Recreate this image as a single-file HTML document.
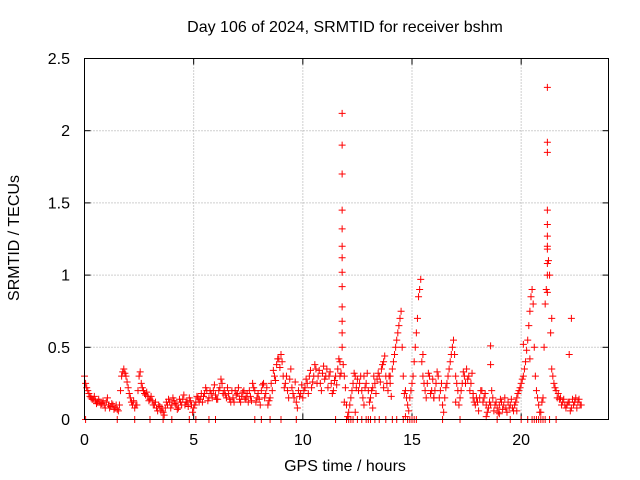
<!DOCTYPE html>
<html><head><meta charset="utf-8"><style>
html,body{margin:0;padding:0;background:#fff;}
svg{display:block;font-family:"Liberation Sans",sans-serif;}
</style></head><body>
<svg id="chart" width="640" height="480" viewBox="0 0 640 480">
<rect x="0" y="0" width="640" height="480" fill="#fff"/>
<text x="345" y="32" font-size="16" text-anchor="middle">Day 106 of 2024, SRMTID for receiver bshm</text>
<text x="345" y="471" font-size="16" text-anchor="middle">GPS time / hours</text>
<text x="19" y="238" font-size="16" text-anchor="middle" transform="rotate(-90 19 238)">SRMTID / TECUs</text>
<g id="grid"></g>
<g id="ticks"></g>
<g id="marks"></g>
<rect x="84.5" y="58.5" width="524" height="361" fill="none" stroke="#000"/>
</svg>
<script>
const xTicks=[0,5,10,15,20];
const yTicks=[0,0.5,1,1.5,2,2.5];
const yTickLabels=["0","0.5","1","1.5","2","2.5"];
const traceHours=[0.0,0.1,0.2,0.3,0.4,0.5,0.6,0.7,0.8,0.9,1.0,1.1,1.2,1.3,1.4,1.5,1.6,1.7,1.8,1.9,2.0,2.1,2.2,2.3,2.4,2.5,2.6,2.7,2.8,2.9,3.0,3.1,3.2,3.3,3.4,3.5,3.6,3.7,3.8,3.9,4.0,4.1,4.2,4.3,4.4,4.5,4.6,4.7,4.8,4.9,5.0,5.1,5.2,5.3,5.4,5.5,5.6,5.7,5.8,5.9,6.0,6.1,6.2,6.3,6.4,6.5,6.6,6.7,6.8,6.9,7.0,7.1,7.2,7.3,7.4,7.5,7.6,7.7,7.8,7.9,8.0,8.1,8.2,8.3,8.4,8.5,8.6,8.7,8.8,8.9,9.0,9.1,9.2,9.3,9.4,9.5,9.6,9.7,9.8,9.9,10.0,10.1,10.2,10.3,10.4,10.5,10.6,10.7,10.8,10.9,11.0,11.1,11.2,11.3,11.4,11.5,11.6,11.7,11.8,11.9,12.0,12.1,12.2,12.3,12.4,12.5,12.6,12.7,12.8,12.9,13.0,13.1,13.2,13.3,13.4,13.5,13.6,13.7,13.8,13.9,14.0,14.1,14.2,14.3,14.4,14.5,14.6,14.7,14.8,14.9,15.0,15.1,15.2,15.3,15.4,15.5,15.6,15.7,15.8,15.9,16.0,16.1,16.2,16.3,16.4,16.5,16.6,16.7,16.8,16.9,17.0,17.1,17.2,17.3,17.4,17.5,17.6,17.7,17.8,17.9,18.0,18.1,18.2,18.3,18.4,18.5,18.6,18.7,18.8,18.9,19.0,19.1,19.2,19.3,19.4,19.5,19.6,19.7,19.8,19.9,20.0,20.1,20.2,20.3,20.4,20.5,20.6,20.7,20.8,20.9,21.0,21.1,21.2,21.3,21.4,21.5,21.6,21.7,21.8,21.9,22.0,22.1,22.2,22.3,22.4,22.5,22.6,22.7];
const traceValues=[0.3,0.22,0.18,0.15,0.14,0.13,0.12,0.12,0.11,0.1,0.12,0.1,0.09,0.1,0.08,0.07,0.1,0.3,0.35,0.3,0.22,0.15,0.1,0.08,0.1,0.3,0.25,0.2,0.17,0.16,0.14,0.13,0.1,0.08,0.1,0.06,0.05,0.08,0.1,0.12,0.1,0.13,0.1,0.08,0.12,0.14,0.1,0.12,0.15,0.1,0.08,0.12,0.15,0.14,0.12,0.18,0.2,0.15,0.18,0.2,0.17,0.14,0.22,0.25,0.2,0.15,0.18,0.12,0.15,0.2,0.18,0.14,0.16,0.2,0.15,0.12,0.16,0.25,0.2,0.15,0.14,0.2,0.25,0.18,0.1,0.15,0.2,0.3,0.38,0.42,0.45,0.3,0.25,0.2,0.28,0.22,0.15,0.12,0.2,0.18,0.15,0.22,0.25,0.3,0.22,0.3,0.35,0.3,0.25,0.32,0.28,0.35,0.3,0.25,0.2,0.3,0.35,0.4,0.5,0.3,0.1,0.05,0.15,0.25,0.3,0.28,0.25,0.2,0.3,0.25,0.2,0.15,0.22,0.25,0.28,0.3,0.35,0.4,0.3,0.2,0.25,0.35,0.45,0.55,0.65,0.75,0.3,0.2,0.1,0.15,0.25,0.4,0.6,0.85,0.97,0.3,0.2,0.25,0.3,0.2,0.15,0.25,0.3,0.2,0.1,0.15,0.25,0.35,0.45,0.55,0.3,0.2,0.15,0.25,0.3,0.35,0.3,0.25,0.15,0.1,0.12,0.15,0.2,0.15,0.1,0.08,0.1,0.15,0.1,0.08,0.1,0.12,0.1,0.08,0.12,0.1,0.08,0.1,0.15,0.2,0.25,0.3,0.4,0.55,0.75,0.9,0.5,0.2,0.1,0.05,0.15,0.8,1.2,1.0,0.35,0.25,0.2,0.18,0.15,0.12,0.1,0.1,0.12,0.08,0.1,0.15,0.12,0.1];
const trace2Hours=[0.05,0.15,0.25,0.35,0.45,0.55,0.65,0.75,0.85,0.95,1.05,1.15,1.25,1.35,1.45,1.55,1.65,1.75,1.85,1.95,2.05,2.15,2.25,2.35,2.45,2.55,2.65,2.75,2.85,2.95,3.05,3.15,3.25,3.35,3.45,3.55,3.65,3.75,3.85,3.95,4.05,4.15,4.25,4.35,4.45,4.55,4.65,4.75,4.85,4.95,5.05,5.15,5.25,5.35,5.45,5.55,5.65,5.75,5.85,5.95,6.05,6.15,6.25,6.35,6.45,6.55,6.65,6.75,6.85,6.95,7.05,7.15,7.25,7.35,7.45,7.55,7.65,7.75,7.85,7.95,8.05,8.15,8.25,8.35,8.45,8.55,8.65,8.75,8.85,8.95,9.05,9.15,9.25,9.35,9.45,9.55,9.65,9.75,9.85,9.95,10.05,10.15,10.25,10.35,10.45,10.55,10.65,10.75,10.85,10.95,11.05,11.15,11.25,11.35,11.45,11.55,11.65,11.75,11.85,11.95,12.05,12.15,12.25,12.35,12.45,12.55,12.65,12.75,12.85,12.95,13.05,13.15,13.25,13.35,13.45,13.55,13.65,13.75,13.85,13.95,14.05,14.15,14.25,14.35,14.45,14.55,14.65,14.75,14.85,14.95,15.05,15.15,15.25,15.35,15.45,15.55,15.65,15.75,15.85,15.95,16.05,16.15,16.25,16.35,16.45,16.55,16.65,16.75,16.85,16.95,17.05,17.15,17.25,17.35,17.45,17.55,17.65,17.75,17.85,17.95,18.05,18.15,18.25,18.35,18.45,18.55,18.65,18.75,18.85,18.95,19.05,19.15,19.25,19.35,19.45,19.55,19.65,19.75,19.85,19.95,20.05,20.15,20.25,20.35,20.45,20.55,20.65,20.75,20.85,20.95,21.05,21.15,21.25,21.35,21.45,21.55,21.65,21.75,21.85,21.95,22.05,22.15,22.25,22.35,22.45,22.55,22.65,22.75];
const trace2Values=[0.25,0.2,0.16,0.14,0.16,0.11,0.14,0.1,0.13,0.08,0.15,0.08,0.11,0.07,0.1,0.06,0.2,0.33,0.32,0.26,0.18,0.12,0.13,0.1,0.2,0.33,0.22,0.18,0.19,0.13,0.16,0.1,0.12,0.06,0.09,0.08,0.03,0.12,0.14,0.08,0.15,0.11,0.07,0.14,0.1,0.17,0.12,0.09,0.13,0.05,0.1,0.16,0.12,0.18,0.16,0.22,0.13,0.2,0.15,0.24,0.14,0.2,0.28,0.18,0.17,0.22,0.14,0.2,0.12,0.17,0.22,0.12,0.19,0.14,0.18,0.2,0.13,0.22,0.12,0.18,0.1,0.24,0.15,0.22,0.13,0.25,0.34,0.27,0.42,0.36,0.4,0.22,0.3,0.15,0.35,0.18,0.26,0.08,0.16,0.24,0.2,0.28,0.18,0.34,0.26,0.38,0.25,0.34,0.2,0.37,0.3,0.22,0.33,0.18,0.27,0.24,0.42,0.32,0.38,0.22,0.02,0.1,0.2,0.32,0.22,0.2,0.3,0.15,0.22,0.32,0.12,0.2,0.3,0.18,0.32,0.26,0.38,0.44,0.25,0.3,0.16,0.4,0.5,0.6,0.7,0.5,0.18,0.15,0.06,0.2,0.3,0.5,0.7,0.9,0.4,0.25,0.15,0.32,0.18,0.28,0.2,0.33,0.15,0.25,0.05,0.22,0.3,0.4,0.5,0.45,0.25,0.1,0.2,0.33,0.25,0.28,0.2,0.32,0.12,0.15,0.06,0.2,0.12,0.18,0.05,0.12,0.2,0.06,0.12,0.05,0.14,0.07,0.15,0.05,0.08,0.14,0.06,0.12,0.18,0.22,0.28,0.35,0.48,0.65,0.85,0.8,0.3,0.15,0.05,0.12,0.5,0.9,1.1,0.6,0.3,0.22,0.15,0.14,0.1,0.14,0.08,0.12,0.06,0.14,0.12,0.08,0.14,0.1,0.12];
const extraHours=[11.8,11.8,11.8,11.8,11.8,11.8,11.8,11.8,11.8,11.8,11.8,11.8,21.2,21.2,21.2,21.2,21.2,21.2,21.2,21.2,21.2,21.2,22.3,22.2,18.6,18.6,0.05,1.5,2.3,3.6,4.8,5.1,5.7,7.8,8.1,9.7,11.5,12.0,12.2,12.5,13.0,13.3,14.1,14.8,15.1,16.4,17.2,18.9,19.5,20.0,20.6,20.8,21.0,21.6,12.1,12.3,12.7,12.9,13.1,13.5,13.8,14.3,14.6,14.9,15.0,15.2,20.3,20.5,20.7,20.9,21.1,21.3,3.0,4.0,6.0,8.5,9.0,11.7,11.9,12.4,12.8,13.2,13.7,14.0,14.7,15.5,16.0,17.0,17.8,18.4,19.0,19.8,20.1,20.4,21.4];
const extraValues=[2.12,1.9,1.7,1.45,1.32,1.2,1.12,1.02,0.92,0.78,0.68,0.6,2.3,1.92,1.85,1.45,1.35,1.27,1.18,1.08,1.0,0.88,0.7,0.45,0.51,0.38,0,0,0,0,0,0,0,0,0,0,0,0,0,0,0,0,0,0,0,0,0,0,0,0,0,0,0,0,0,0,0,0,0,0,0,0,0,0,0,0,0,0,0,0,0,0,0,0,0,0,0,0.3,0.12,0.05,0.1,0.08,0.22,0.3,0.02,0.45,0.15,0.12,0.18,0.02,0.04,0.06,0.52,0.42,0.7];
const X0=84.5,X1=608.5,Y0=419.5,Y1=58.5;
const xs=h=>X0+h/24*(X1-X0);
const ys=v=>Y0-v/2.5*(Y0-Y1);
const NS="http://www.w3.org/2000/svg";
function mk(t,a,p){const e=document.createElementNS(NS,t);for(const k in a)e.setAttribute(k,a[k]);p.appendChild(e);return e;}
const grid=document.getElementById('grid'),ticks=document.getElementById('ticks'),marks=document.getElementById('marks');
xTicks.forEach(t=>{const x=xs(t);
 if(t>0){const g=mk('line',{x1:x,x2:x,y1:Y0,y2:Y1,stroke:'#a0a0a0','stroke-dasharray':'1,2'},grid);
 
 }
 mk('line',{x1:x,x2:x,y1:Y0,y2:Y0-6,stroke:'#000'},ticks);
 mk('line',{x1:x,x2:x,y1:Y1,y2:Y1+6,stroke:'#000'},ticks);
 const l=mk('text',{x:x,y:445,'font-size':16,'text-anchor':'middle'},ticks);l.textContent=t;
 
 });
yTicks.forEach((t,i)=>{const y=ys(t);
 if(t>0&&t<2.5){const g=mk('line',{x1:X0,x2:X1,y1:y,y2:y,stroke:'#a0a0a0','stroke-dasharray':'1,2'},grid);
 
 }
 mk('line',{x1:X0,x2:X0+6,y1:y,y2:y,stroke:'#000'},ticks);
 mk('line',{x1:X1,x2:X1-6,y1:y,y2:y,stroke:'#000'},ticks);
 const l=mk('text',{x:70,y:y+5.5,'font-size':16,'text-anchor':'end'},ticks);l.textContent=yTickLabels[i];
 
 });
function plus(h,v,c){const x=xs(h),y=ys(v);
 const p=mk('path',{d:`M${x-3.5},${y}H${x+3.5}M${x},${y-3.5}V${y+3.5}`,stroke:c,'stroke-width':1,fill:'none'},marks);
 
 }
trace2Hours.forEach((h,i)=>plus(h,trace2Values[i],'#f00'));
traceHours.forEach((h,i)=>plus(h,traceValues[i],'#f00'));
extraHours.forEach((h,i)=>plus(h,extraValues[i],'#f00'));
</script>
</body></html>
